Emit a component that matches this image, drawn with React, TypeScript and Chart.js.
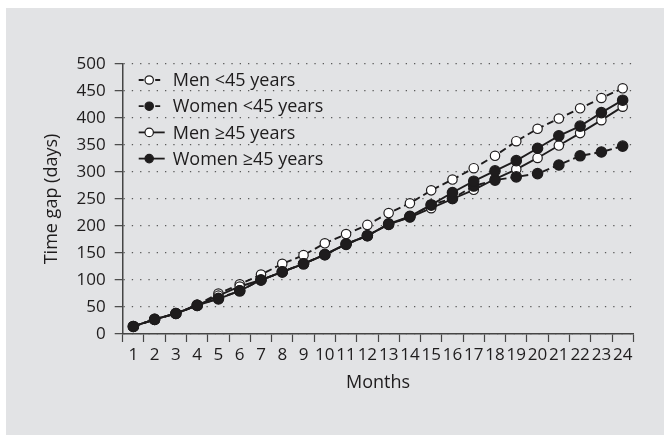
import React, { useEffect, useRef } from "react";
import { Chart, registerables } from "chart.js";

Chart.register(...registerables);

const months = ["1", "2", "3", "4", "5", "6", "7", "8", "9", "10", "11", "12", "13", "14", "15", "16", "17", "18", "19", "20", "21", "22", "23", "24"];
const menUnder45 = [14, 27, 38, 54, 75, 92, 110, 130, 146, 168, 185, 202, 224, 242, 266, 286, 307, 330, 357, 380, 399, 418, 437, 455];
const womenUnder45 = [14, 27, 38, 53, 66, 80, 100, 115, 130, 147, 166, 182, 203, 217, 239, 251, 274, 285, 291, 297, 313, 330, 337, 348];
const menOver45 = [14, 27, 38, 53, 71, 88, 100, 115, 130, 147, 166, 182, 203, 216, 233, 250, 267, 287, 305, 326, 349, 372, 396, 421];
const womenOver45 = [14, 27, 38, 53, 65, 80, 100, 115, 130, 147, 167, 182, 204, 218, 239, 262, 283, 302, 321, 344, 367, 385, 410, 433];
const yTicks = [0, 50, 100, 150, 200, 250, 300, 350, 400, 450, 500];
const seriesNames = ["Men <45 years", "Women <45 years", "Men \u226545 years", "Women \u226545 years"];
const seriesDashed = [true, true, false, false];
const seriesFilled = [false, true, false, true];

const INK = "#1e1c1d";
const AXIS = "#454545";
const GRID = "#5a5a5a";
const FONT = "'Open Sans', 'Noto Sans', sans-serif";

const legendPlugin = {
  id: "insideLegend",
  afterDraw(chart: any) {
    const ctx = chart.ctx as CanvasRenderingContext2D;
    const { left, top } = chart.chartArea;
    ctx.save();
    ctx.font = `18px ${FONT}`;
    ctx.textBaseline = "middle";
    ctx.textAlign = "left";
    seriesNames.forEach((name, i) => {
      const cy = top + 16 + i * 26.2;
      const x0 = left + 16;
      const cx = left + 26.5;
      ctx.strokeStyle = INK;
      ctx.lineWidth = 1.8;
      ctx.setLineDash([]);
      ctx.beginPath();
      if (seriesDashed[i]) {
        ctx.moveTo(x0, cy);
        ctx.lineTo(x0 + 5, cy);
        ctx.moveTo(cx + 6, cy);
        ctx.lineTo(cx + 11, cy);
      } else {
        ctx.moveTo(x0, cy);
        ctx.lineTo(x0 + 26, cy);
      }
      ctx.stroke();
      ctx.beginPath();
      ctx.arc(cx, cy, 4.2, 0, Math.PI * 2);
      ctx.fillStyle = seriesFilled[i] ? INK : "#ffffff";
      ctx.fill();
      ctx.lineWidth = 1.2;
      ctx.stroke();
      ctx.fillStyle = INK;
      ctx.fillText(name, left + 50, cy + 1);
    });
    ctx.restore();
  },
};

export default function App() {
  const ref = useRef<HTMLCanvasElement | null>(null);

  useEffect(() => {
    if (!ref.current) return;
    const mk = (i: number, data: number[], order: number) => ({
      label: seriesNames[i],
      data,
      order,
      borderColor: INK,
      borderWidth: 1.9,
      borderDash: seriesDashed[i] ? [7, 4] : [],
      pointRadius: seriesFilled[i] ? 5.2 : 4.7,
      pointBorderWidth: 1.2,
      pointBackgroundColor: seriesFilled[i] ? INK : "#ffffff",
      pointBorderColor: INK,
      pointStyle: "circle",
      fill: false,
      tension: 0,
    });
    const datasets = [
      mk(0, menUnder45, 4),
      mk(1, womenUnder45, 2),
      mk(2, menOver45, 3),
      mk(3, womenOver45, 1),
    ];
    const chart = new Chart(ref.current, {
      type: "line",
      data: { labels: months, datasets: datasets as any },
      plugins: [legendPlugin],
      options: {
        animation: false,
        responsive: false,
        maintainAspectRatio: false,
        layout: { padding: { top: 56, right: 30.7, left: 0, bottom: 0 } },
        plugins: {
          tooltip: { enabled: false },
          legend: { display: false },
        },
        scales: {
          x: {
            type: "category",
            offset: true,
            grid: {
              offset: true,
              drawOnChartArea: false,
              drawTicks: true,
              tickLength: 8,
              tickColor: AXIS,
              tickWidth: 1.2,
              color: AXIS,
            },
            border: { color: AXIS, width: 1.5 },
            ticks: {
              autoSkip: false,
              maxRotation: 0,
              minRotation: 0,
              color: INK,
              padding: 3,
              font: { family: FONT, size: 17 },
            },
            title: {
              display: true,
              text: "Months",
              color: INK,
              font: { family: FONT, size: 18 },
              padding: { top: 0, bottom: 41 },
            },
            afterFit: (s: any) => {
              s.height = 101;
            },
          },
          y: {
            type: "linear",
            min: 0,
            max: 500,
            afterBuildTicks: (s: any) => {
              s.ticks = yTicks.map((v) => ({ value: v }));
            },
            grid: {
              color: GRID,
              lineWidth: 1.3,
              drawTicks: true,
              tickLength: 8,
              tickColor: AXIS,
              tickWidth: 1.2,
            },
            border: { color: AXIS, width: 1.5, dash: [1.3, 7], dashOffset: 0 },
            ticks: {
              color: INK,
              padding: 9,
              font: { family: FONT, size: 17 },
            },
            title: {
              display: true,
              text: "Time gap (days)",
              color: INK,
              font: { family: FONT, size: 18 },
              padding: { top: 35, bottom: 0 },
            },
            afterFit: (s: any) => {
              s.width = 116.7;
            },
          },
        },
      } as any,
    });
    return () => chart.destroy();
  }, []);

  return (
    <div
      style={{
        position: "absolute",
        left: 6,
        top: 8,
        width: 658,
        height: 427,
        background: "#e2e3e5",
      }}
    >
      <canvas ref={ref} width={658} height={427} style={{ display: "block", width: 658, height: 427 }} />
    </div>
  );
}
